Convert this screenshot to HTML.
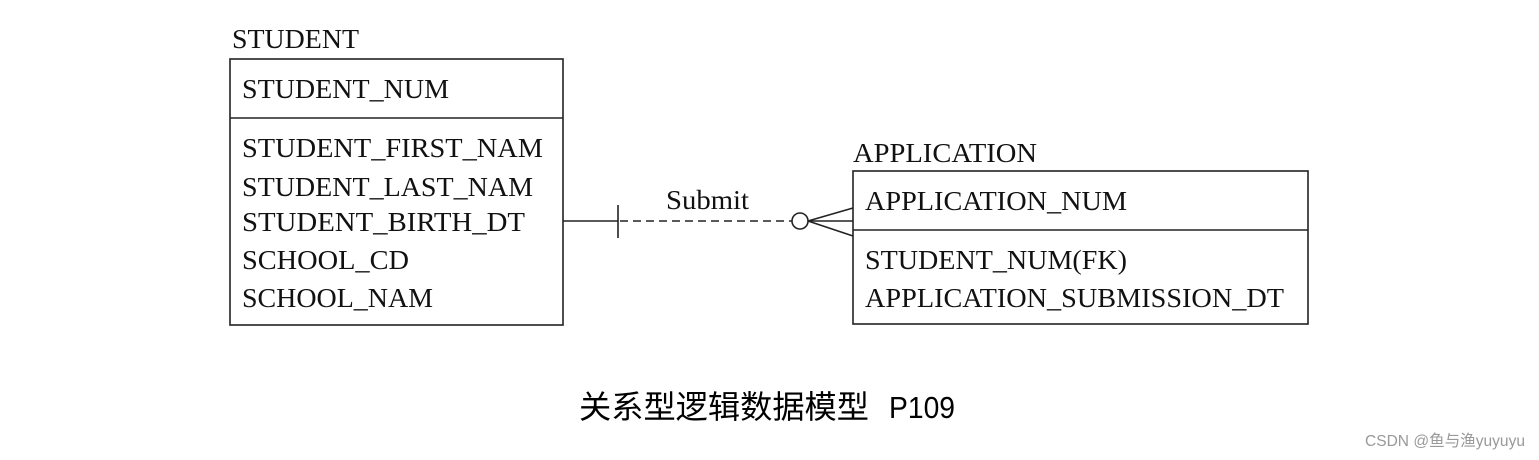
<!DOCTYPE html>
<html><head><meta charset="utf-8"><style>
html,body{margin:0;padding:0;background:#fff;}
svg{display:block;}
.t{font-family:"Liberation Serif",serif;font-size:27px;fill:#111;}
</style></head><body>
<svg width="1539" height="460" viewBox="0 0 1539 460" xmlns="http://www.w3.org/2000/svg">
<g class="t">
<text x="232" y="48" textLength="127" lengthAdjust="spacingAndGlyphs">STUDENT</text>
<text x="242" y="98" textLength="207" lengthAdjust="spacingAndGlyphs">STUDENT_NUM</text>
<text x="242" y="157" textLength="301" lengthAdjust="spacingAndGlyphs">STUDENT_FIRST_NAM</text>
<text x="242" y="196" textLength="291" lengthAdjust="spacingAndGlyphs">STUDENT_LAST_NAM</text>
<text x="242" y="231" textLength="283" lengthAdjust="spacingAndGlyphs">STUDENT_BIRTH_DT</text>
<text x="242" y="269" textLength="167" lengthAdjust="spacingAndGlyphs">SCHOOL_CD</text>
<text x="242" y="307" textLength="191" lengthAdjust="spacingAndGlyphs">SCHOOL_NAM</text>
<text x="853" y="162" textLength="184" lengthAdjust="spacingAndGlyphs">APPLICATION</text>
<text x="865" y="210" textLength="262" lengthAdjust="spacingAndGlyphs">APPLICATION_NUM</text>
<text x="865" y="269" textLength="262" lengthAdjust="spacingAndGlyphs">STUDENT_NUM(FK)</text>
<text x="865" y="307" textLength="419" lengthAdjust="spacingAndGlyphs">APPLICATION_SUBMISSION_DT</text>
<text x="666" y="209" textLength="83" lengthAdjust="spacingAndGlyphs">Submit</text>
</g>
<g fill="none" stroke="#222" stroke-width="1.6">
<rect x="230" y="59" width="333" height="266"/>
<line x1="230" y1="118" x2="563" y2="118"/>
<rect x="853" y="171" width="455" height="153"/>
<line x1="853" y1="230" x2="1308" y2="230"/>
<line x1="563" y1="221" x2="618" y2="221"/>
<line x1="618" y1="205" x2="618" y2="238"/>
<line x1="620" y1="221" x2="792" y2="221" stroke-dasharray="8,5"/>
<circle cx="800" cy="221" r="8"/>
<line x1="808" y1="221" x2="853" y2="208"/>
<line x1="808" y1="221" x2="853" y2="236"/>
<line x1="808" y1="221" x2="853" y2="221"/>
</g>
<text x="579" y="418" font-family="'Noto Sans CJK SC',sans-serif" font-size="32" fill="#000" textLength="290" lengthAdjust="spacingAndGlyphs">关系型逻辑数据模型</text>
<text x="889" y="418" font-family="'Liberation Sans',sans-serif" font-size="31" fill="#000" textLength="66" lengthAdjust="spacingAndGlyphs">P109</text>
<text x="1365" y="446" font-family="'Liberation Sans','Noto Sans CJK SC',sans-serif" font-size="16" fill="#999" textLength="160" lengthAdjust="spacingAndGlyphs">CSDN @鱼与渔yuyuyu</text>
</svg>
</body></html>
